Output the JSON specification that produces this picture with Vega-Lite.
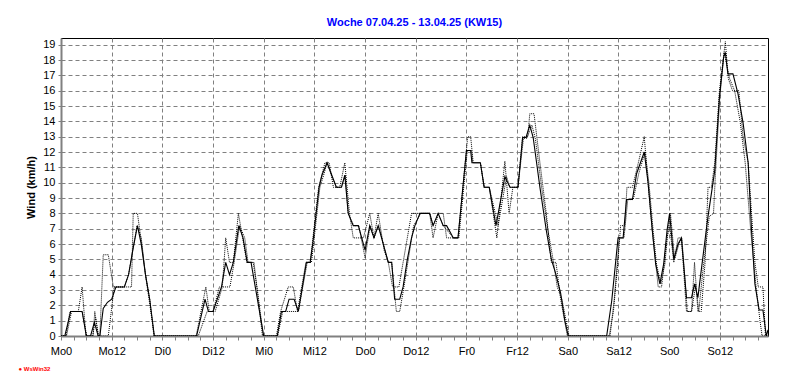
{
  "$schema": "https://vega.github.io/schema/vega-lite/v6.json",
  "width": 707,
  "height": 298,
  "autosize": {"type": "none"},
  "padding": {"left": 61, "top": 38, "right": 24, "bottom": 51},
  "background": "white",
  "title": {"text": "Woche 07.04.25 - 13.04.25 (KW15)", "color": "#0000FF", "fontSize": 11, "fontWeight": "bold", "font": "Liberation Sans", "offset": 1, "baseline": "alphabetic", "anchor": "middle"},
  "config": {"view": {"stroke": "black", "strokeWidth": 1}},
  "datasets": {
    "solid": [
      {"h":0,"v":0},{"h":0.9,"v":0},{"h":2.3,"v":1.6},{"h":5.0,"v":1.6},{"h":6.0,"v":0},{"h":7.0,"v":0},{"h":7.9,"v":0.9},{"h":8.8,"v":0},{"h":9.2,"v":0},{"h":10.0,"v":1.8},{"h":11.0,"v":2.2},{"h":12.0,"v":2.4},{"h":13.0,"v":3.2},{"h":15.0,"v":3.2},{"h":16.0,"v":4.0},{"h":17.0,"v":5.6},{"h":18.1,"v":7.2},{"h":19.0,"v":6.0},{"h":20.0,"v":4.0},{"h":21.0,"v":2.4},{"h":22.1,"v":0},
      {"h":32.1,"v":0},{"h":34.1,"v":2.4},{"h":34.9,"v":1.6},{"h":36.0,"v":1.6},{"h":38.0,"v":3.2},{"h":39.0,"v":4.8},{"h":39.9,"v":4.0},{"h":40.8,"v":4.8},{"h":42.1,"v":7.2},{"h":43.1,"v":6.4},{"h":44.1,"v":4.8},{"h":45.0,"v":4.8},{"h":46.5,"v":2.4},{"h":48.0,"v":0},
      {"h":51.2,"v":0},{"h":52.2,"v":1.6},{"h":53.2,"v":1.6},{"h":54.0,"v":2.4},{"h":55.2,"v":2.4},{"h":56.2,"v":1.6},{"h":58.1,"v":4.8},{"h":59.0,"v":4.8},{"h":59.6,"v":6.0},{"h":61.1,"v":9.7},{"h":61.8,"v":10.5},{"h":63.0,"v":11.3},{"h":64.1,"v":10.5},{"h":65.2,"v":9.7},{"h":66.4,"v":9.7},{"h":67.2,"v":10.5},{"h":68.0,"v":8.0},{"h":69.2,"v":7.2},{"h":70.4,"v":7.2},{"h":72.0,"v":5.6},{"h":73.1,"v":7.2},{"h":74.1,"v":6.4},{"h":75.1,"v":7.2},{"h":76.7,"v":5.6},{"h":77.5,"v":4.8},{"h":78.3,"v":4.8},{"h":79.0,"v":2.4},{"h":80.2,"v":2.4},{"h":81.0,"v":3.2},{"h":82.0,"v":5.0},{"h":83.0,"v":6.4},{"h":83.8,"v":7.2},{"h":85.0,"v":8.0},{"h":87.3,"v":8.0},{"h":88.1,"v":7.2},{"h":89.3,"v":8.0},{"h":90.5,"v":7.2},{"h":91.3,"v":7.2},{"h":92.9,"v":6.4},{"h":94.0,"v":6.4},{"h":96.0,"v":12.1},{"h":97.0,"v":12.1},{"h":97.3,"v":11.3},{"h":99.3,"v":11.3},{"h":100.2,"v":9.7},{"h":101.4,"v":9.7},{"h":103.0,"v":7.2},{"h":105.1,"v":10.4},{"h":106.3,"v":9.7},{"h":108.2,"v":9.7},{"h":109.3,"v":12.95},{"h":110.1,"v":12.95},{"h":111.0,"v":13.75},{"h":111.8,"v":12.95},{"h":113.4,"v":9.7},{"h":114.9,"v":6.9},{"h":116.1,"v":5.0},{"h":117.1,"v":4.1},{"h":118.3,"v":2.8},{"h":119.3,"v":1.0},{"h":120.1,"v":0},
      {"h":129.2,"v":0},{"h":130.4,"v":2.3},{"h":131.9,"v":6.4},{"h":133.1,"v":6.4},{"h":133.9,"v":8.9},{"h":135.3,"v":8.9},{"h":136.3,"v":10.6},{"h":138.1,"v":12.0},{"h":139.0,"v":10.0},{"h":140.0,"v":6.9},{"h":140.8,"v":4.7},{"h":141.8,"v":3.4},{"h":142.7,"v":4.7},{"h":143.5,"v":6.9},{"h":144.1,"v":8.0},{"h":145.1,"v":5.0},{"h":146.1,"v":6.0},{"h":146.9,"v":6.4},{"h":148.1,"v":2.5},{"h":149.3,"v":2.5},{"h":150.0,"v":3.4},{"h":150.8,"v":2.5},{"h":151.6,"v":4.3},{"h":153.2,"v":7.8},{"h":154.8,"v":10.8},{"h":155.9,"v":15.6},{"h":156.9,"v":18.2},{"h":157.3,"v":18.5},{"h":157.9,"v":17.1},{"h":159.1,"v":17.1},{"h":160.3,"v":15.8},{"h":161.5,"v":13.9},{"h":162.7,"v":11.3},{"h":163.5,"v":6.9},{"h":164.3,"v":3.4},{"h":165.3,"v":1.7},{"h":166.2,"v":1.7},{"h":167.0,"v":0},{"h":167.4,"v":0.4}
    ],
    "dotted": [
      {"s":"B","h":0,"v":0},{"s":"B","h":1.2,"v":0},{"s":"B","h":2.1,"v":1.6},{"s":"B","h":4.1,"v":1.6},{"s":"B","h":5.0,"v":3.2},{"s":"B","h":5.9,"v":0},{"s":"B","h":7.6,"v":0},{"s":"B","h":8.0,"v":1.6},{"s":"B","h":8.8,"v":0},{"s":"B","h":9.2,"v":0},{"s":"B","h":10.0,"v":5.3},{"s":"B","h":11.2,"v":5.3},{"s":"B","h":12.4,"v":3.2},{"s":"B","h":16.7,"v":3.2},{"s":"B","h":17.1,"v":8.0},{"s":"B","h":18.1,"v":8.0},{"s":"B","h":19.1,"v":6.0},{"s":"B","h":20.0,"v":4.0},{"s":"B","h":21.0,"v":2.4},{"s":"B","h":22.0,"v":0},
      {"s":"B","h":32.0,"v":0},{"s":"B","h":34.3,"v":3.2},{"s":"B","h":35.1,"v":1.6},{"s":"B","h":36.5,"v":1.6},{"s":"B","h":38.2,"v":3.2},{"s":"B","h":39.0,"v":6.4},{"s":"B","h":39.9,"v":4.8},{"s":"B","h":40.8,"v":4.8},{"s":"B","h":42.0,"v":8.0},{"s":"B","h":43.0,"v":6.4},{"s":"B","h":44.0,"v":4.8},{"s":"B","h":45.7,"v":4.8},{"s":"B","h":47.7,"v":0},
      {"s":"B","h":51.0,"v":0},{"s":"B","h":52.0,"v":1.6},{"s":"B","h":53.8,"v":3.2},{"s":"B","h":55.0,"v":3.2},{"s":"B","h":56.0,"v":1.6},{"s":"B","h":58.0,"v":4.8},{"s":"B","h":59.0,"v":4.8},{"s":"B","h":61.0,"v":9.7},{"s":"B","h":62.5,"v":11.3},{"s":"B","h":63.5,"v":11.3},{"s":"B","h":64.5,"v":9.7},{"s":"B","h":66.0,"v":9.7},{"s":"B","h":67.2,"v":11.3},{"s":"B","h":68.3,"v":8.0},{"s":"B","h":69.2,"v":6.4},{"s":"B","h":71.6,"v":6.4},{"s":"B","h":73.1,"v":8.0},{"s":"B","h":74.1,"v":6.4},{"s":"B","h":75.1,"v":8.0},{"s":"B","h":76.5,"v":5.6},{"s":"B","h":77.5,"v":4.8},{"s":"B","h":78.5,"v":3.2},{"s":"B","h":80.0,"v":3.2},{"s":"B","h":81.0,"v":4.8},{"s":"B","h":83.0,"v":8.0},{"s":"B","h":87.3,"v":8.0},{"s":"B","h":88.1,"v":6.4},{"s":"B","h":89.3,"v":8.0},{"s":"B","h":90.5,"v":8.0},{"s":"B","h":91.3,"v":6.4},{"s":"B","h":94.0,"v":6.4},{"s":"B","h":96.3,"v":13.0},{"s":"B","h":97.0,"v":13.0},{"s":"B","h":97.6,"v":11.3},{"s":"B","h":99.3,"v":11.3},{"s":"B","h":100.2,"v":9.7},{"s":"B","h":101.4,"v":9.7},{"s":"B","h":103.2,"v":6.4},{"s":"B","h":105.1,"v":11.4},{"s":"B","h":106.1,"v":8.0},{"s":"B","h":107.0,"v":9.7},{"s":"B","h":108.2,"v":9.7},{"s":"B","h":109.3,"v":13.0},{"s":"B","h":110.5,"v":13.0},{"s":"B","h":111.0,"v":14.5},{"s":"B","h":112.0,"v":14.5},{"s":"B","h":113.4,"v":11.3},{"s":"B","h":114.9,"v":8.0},{"s":"B","h":116.1,"v":4.8},{"s":"B","h":117.2,"v":4.8},{"s":"B","h":118.3,"v":2.4},{"s":"B","h":119.9,"v":0},
      {"s":"B","h":129.8,"v":0},{"s":"B","h":130.8,"v":1.6},{"s":"B","h":131.9,"v":5.0},{"s":"B","h":132.5,"v":7.2},{"s":"B","h":133.5,"v":7.2},{"s":"B","h":134.0,"v":9.7},{"s":"B","h":135.3,"v":9.7},{"s":"B","h":136.7,"v":11.3},{"s":"B","h":138.1,"v":13.0},{"s":"B","h":139.0,"v":10.0},{"s":"B","h":140.0,"v":6.9},{"s":"B","h":141.4,"v":3.2},{"s":"B","h":142.2,"v":3.2},{"s":"B","h":143.5,"v":6.4},{"s":"B","h":144.1,"v":7.2},{"s":"B","h":145.1,"v":4.8},{"s":"B","h":146.1,"v":6.4},{"s":"B","h":146.9,"v":6.4},{"s":"B","h":148.1,"v":1.6},{"s":"B","h":149.3,"v":1.6},{"s":"B","h":150.0,"v":4.8},{"s":"B","h":150.8,"v":1.6},{"s":"B","h":151.6,"v":1.6},{"s":"B","h":152.5,"v":4.8},{"s":"B","h":153.2,"v":9.7},{"s":"B","h":154.0,"v":9.7},{"s":"B","h":154.8,"v":11.3},{"s":"B","h":155.9,"v":16.0},{"s":"B","h":157.3,"v":19.2},{"s":"B","h":158.0,"v":16.8},{"s":"B","h":159.0,"v":16.0},{"s":"B","h":160.5,"v":16.0},{"s":"B","h":161.5,"v":13.0},{"s":"B","h":162.7,"v":11.3},{"s":"B","h":163.5,"v":8.0},{"s":"B","h":164.3,"v":4.8},{"s":"B","h":165.1,"v":3.2},{"s":"B","h":166.2,"v":3.2},{"s":"B","h":166.8,"v":0},{"s":"B","h":167.4,"v":0},
      {"s":"C","h":0,"v":0},{"s":"C","h":1.3,"v":0},{"s":"C","h":2.5,"v":1.6},{"s":"C","h":5.0,"v":1.6},{"s":"C","h":6.1,"v":0},{"s":"C","h":7.5,"v":0},{"s":"C","h":8.2,"v":1.2},{"s":"C","h":8.9,"v":0},{"s":"C","h":11.2,"v":0},{"s":"C","h":12.6,"v":3.2},{"s":"C","h":15.0,"v":3.2},{"s":"C","h":16.0,"v":4.0},{"s":"C","h":18.0,"v":7.2},{"s":"C","h":19.0,"v":6.4},{"s":"C","h":20.0,"v":4.0},{"s":"C","h":22.1,"v":0},
      {"s":"C","h":32.5,"v":0},{"s":"C","h":34.6,"v":1.6},{"s":"C","h":36.0,"v":1.6},{"s":"C","h":37.5,"v":3.2},{"s":"C","h":40.0,"v":3.2},{"s":"C","h":41.0,"v":4.8},{"s":"C","h":42.3,"v":7.2},{"s":"C","h":43.5,"v":6.4},{"s":"C","h":44.3,"v":4.8},{"s":"C","h":45.5,"v":4.8},{"s":"C","h":46.5,"v":3.0},{"s":"C","h":47.9,"v":0},
      {"s":"C","h":51.3,"v":0},{"s":"C","h":52.5,"v":1.6},{"s":"C","h":56.2,"v":1.6},{"s":"C","h":58.3,"v":4.8},{"s":"C","h":59.3,"v":4.8},{"s":"C","h":61.3,"v":9.7},{"s":"C","h":62.2,"v":10.5},{"s":"C","h":63.0,"v":11.3},{"s":"C","h":64.0,"v":10.5},{"s":"C","h":65.2,"v":9.7},{"s":"C","h":66.4,"v":9.7},{"s":"C","h":67.3,"v":10.5},{"s":"C","h":68.0,"v":8.0},{"s":"C","h":69.3,"v":7.2},{"s":"C","h":70.5,"v":7.2},{"s":"C","h":72.0,"v":5.1},{"s":"C","h":73.2,"v":7.2},{"s":"C","h":74.1,"v":6.4},{"s":"C","h":75.2,"v":7.2},{"s":"C","h":76.7,"v":5.6},{"s":"C","h":77.5,"v":4.8},{"s":"C","h":78.3,"v":4.8},{"s":"C","h":79.4,"v":1.6},{"s":"C","h":80.2,"v":1.6},{"s":"C","h":81.2,"v":3.2},{"s":"C","h":83.5,"v":7.2},{"s":"C","h":85.2,"v":8.0},{"s":"C","h":87.3,"v":8.0},{"s":"C","h":88.1,"v":7.2},{"s":"C","h":89.3,"v":8.0},{"s":"C","h":90.5,"v":7.2},{"s":"C","h":92.9,"v":6.4},{"s":"C","h":94.2,"v":6.4},{"s":"C","h":96.2,"v":12.1},{"s":"C","h":97.2,"v":12.1},{"s":"C","h":97.5,"v":11.3},{"s":"C","h":99.3,"v":11.3},{"s":"C","h":100.2,"v":9.7},{"s":"C","h":101.4,"v":9.7},{"s":"C","h":103.5,"v":7.2},{"s":"C","h":105.5,"v":10.4},{"s":"C","h":106.3,"v":9.7},{"s":"C","h":108.2,"v":9.7},{"s":"C","h":109.5,"v":12.9},{"s":"C","h":110.3,"v":12.9},{"s":"C","h":111.5,"v":13.75},{"s":"C","h":112.3,"v":12.9},{"s":"C","h":113.8,"v":9.7},{"s":"C","h":115.3,"v":6.9},{"s":"C","h":116.5,"v":5.0},{"s":"C","h":117.5,"v":3.2},{"s":"C","h":118.6,"v":2.4},{"s":"C","h":120.3,"v":0},
      {"s":"C","h":130.0,"v":0},{"s":"C","h":131.0,"v":2.4},{"s":"C","h":132.2,"v":6.4},{"s":"C","h":133.3,"v":6.4},{"s":"C","h":134.2,"v":8.9},{"s":"C","h":135.5,"v":8.9},{"s":"C","h":136.8,"v":10.6},{"s":"C","h":138.3,"v":12.0},{"s":"C","h":139.2,"v":10.0},{"s":"C","h":140.2,"v":6.9},{"s":"C","h":141.0,"v":4.7},{"s":"C","h":142.0,"v":3.4},{"s":"C","h":143.0,"v":4.7},{"s":"C","h":143.7,"v":6.9},{"s":"C","h":144.3,"v":8.0},{"s":"C","h":145.3,"v":5.0},{"s":"C","h":146.3,"v":6.0},{"s":"C","h":147.0,"v":6.4},{"s":"C","h":148.3,"v":1.6},{"s":"C","h":149.3,"v":1.6},{"s":"C","h":150.3,"v":3.4},{"s":"C","h":151.0,"v":1.6},{"s":"C","h":152.0,"v":4.3},{"s":"C","h":153.5,"v":7.8},{"s":"C","h":154.5,"v":8.0},{"s":"C","h":155.0,"v":10.8},{"s":"C","h":156.0,"v":15.6},{"s":"C","h":157.0,"v":18.5},{"s":"C","h":158.3,"v":16.8},{"s":"C","h":159.5,"v":16.0},{"s":"C","h":160.8,"v":14.0},{"s":"C","h":162.0,"v":11.3},{"s":"C","h":163.3,"v":6.9},{"s":"C","h":164.5,"v":3.4},{"s":"C","h":165.5,"v":1.0},{"s":"C","h":166.0,"v":0},{"s":"C","h":167.4,"v":0}
    ]
  },
  "encoding": {
    "x": {
      "field": "h", "type": "quantitative",
      "scale": {"domain": [0, 167.4], "nice": false, "zero": false},
      "axis": {
        "values": [0,3,6,9,12,15,18,21,24,27,30,33,36,39,42,45,48,51,54,57,60,63,66,69,72,75,78,81,84,87,90,93,96,99,102,105,108,111,114,117,120,123,126,129,132,135,138,141,144,147,150,153,156,159,162,165],
        "labelExpr": "datum.value % 12 === 0 ? ['Mo0','Mo12','Di0','Di12','Mi0','Mi12','Do0','Do12','Fr0','Fr12','Sa0','Sa12','So0','So12'][datum.value / 12] : ''",
        "labelFont": "Liberation Sans", "labelFontSize": 11, "labelColor": "black", "labelPadding": 5, "labelFlush": false, "labelOverlap": false,
        "domainColor": "#808080", "domainWidth": 2,
        "tickColor": "#808080", "tickSize": 4,
        "grid": true, "gridColor": "#808080", "gridDash": [4, 3],
        "gridOpacity": {"condition": {"test": "datum.value % 12 === 0 && datum.value > 0", "value": 1}, "value": 0},
        "title": "● WsWin32", "titleColor": "#FF0000", "titleFont": "Liberation Sans", "titleFontSize": 6, "titleFontWeight": "bold",
        "titleX": -43, "titleY": 32, "titleAlign": "left", "titleBaseline": "middle"
      }
    },
    "y": {
      "field": "v", "type": "quantitative",
      "scale": {"domain": [0, 19.44], "nice": false},
      "axis": {
        "values": [0,1,2,3,4,5,6,7,8,9,10,11,12,13,14,15,16,17,18,19],
        "labelFont": "Liberation Sans", "labelFontSize": 11, "labelColor": "black", "labelPadding": 3, "labelFlush": false, "labelOverlap": false,
        "domainColor": "#808080", "domainWidth": 2,
        "tickColor": "#808080", "tickSize": 3,
        "grid": true, "gridColor": "#808080", "gridDash": [4, 3],
        "gridOpacity": {"condition": {"test": "datum.value > 0", "value": 1}, "value": 0},
        "title": "Wind  (km/h)", "titleFont": "Liberation Sans", "titleFontSize": 11, "titleFontWeight": "bold", "titleColor": "black", "titlePadding": 6
      }
    }
  },
  "layer": [
    {
      "data": {"name": "dotted"},
      "mark": {"type": "line", "color": "black", "strokeWidth": 1, "strokeDash": [1, 1], "clip": true},
      "encoding": {"detail": {"field": "s", "type": "nominal"}}
    },
    {
      "data": {"name": "solid"},
      "mark": {"type": "line", "color": "black", "strokeWidth": 1.1, "clip": true},
      "encoding": {}
    }
  ]
}
